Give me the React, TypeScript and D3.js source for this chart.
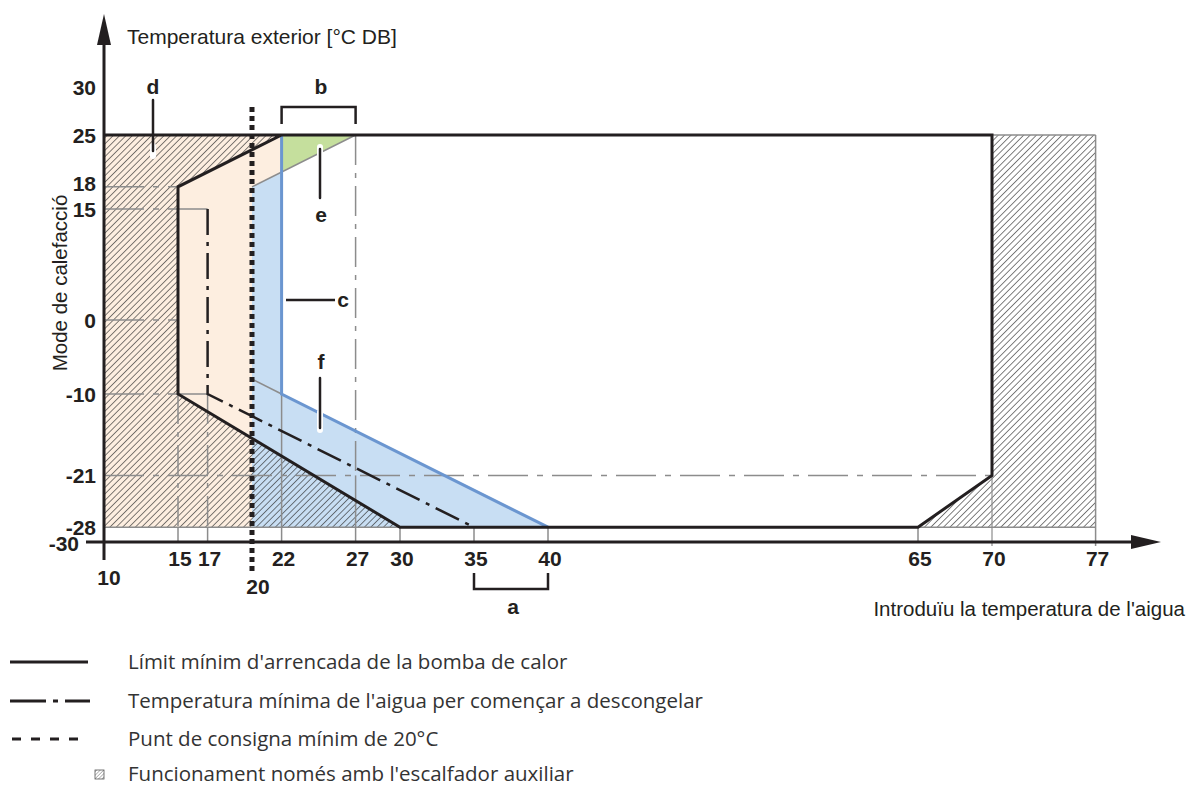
import React from 'react';
import * as d3 from 'd3';

type Pt = [number, number];

// axis ticks
const xTicks = [10, 15, 17, 20, 22, 27, 30, 35, 40, 65, 70, 77];
const yTicks = [30, 25, 18, 15, 0, -10, -21, -28, -30];

// boundary lines (water temp, outdoor temp)
const limitLine: Pt[] = [[10, 25], [70, 25], [70, -21], [65, -28], [30, -28], [15, -10], [15, 18], [22, 25]];
const defrostLine: Pt[] = [[17, 15], [17, -10], [35, -28]];
const blueLine: Pt[] = [[22, 25], [22, -10], [40, -28]];
const setpoint = 20;

// zones
const auxZoneLow: Pt[] = [[10, 25], [22, 25], [15, 18], [15, -10], [30, -28], [10, -28]];
const auxZoneHigh: Pt[] = [[70, 25], [77, 25], [77, -28], [65, -28], [70, -21]];
const beigeZone: Pt[] = [[10, 25], [22, 25], [22, 20], [20, 18], [20, -28], [10, -28]];
const blueZone: Pt[] = [[20, 18], [22, 20], [22, -10], [40, -28], [20, -28]];
const greenZone: Pt[] = [[22, 20], [22, 25], [27, 25]];
const greyEdges: Pt[][] = [[[20, 18], [27, 25]], [[20, -8], [22, -10]]];

// guide lines
const hGuides = [
  { v: 18, from: 10, to: 15 },
  { v: 15, from: 10, to: 17 },
  { v: 0, from: 10, to: 15 },
  { v: -10, from: 10, to: 17 },
  { v: -21, from: 10, to: 70 },
];
const vGuides = [
  { v: 15, from: -10, to: -28 },
  { v: 17, from: -10, to: -28 },
  { v: 27, from: 25, to: -21 },
];

const legendItems = [
  "Límit mínim d'arrencada de la bomba de calor",
  "Temperatura mínima de l'aigua per començar a descongelar",
  'Punt de consigna mínim de 20°C',
  "Funcionament només amb l'escalfador auxiliar",
];

const W = 1189;
const H = 787;

const x = d3.scaleLinear().domain([10, 70]).range([104, 992]);
const y = d3.scaleLinear().domain([-30, 25, 30]).range([542, 135, 87]);

const line = d3.line<Pt>().x(d => x(d[0])).y(d => y(d[1]));
const poly = (p: Pt[]) => line(p) + 'Z';

const GREY = '#8c8c8c';
const INK = '#231f20';
const LABEL = { fontFamily: 'Liberation Sans, Arial, sans-serif', fontWeight: 700, fontSize: 21, fill: INK };

export default function App() {
  const axisY = y(-30);
  const legendY = [662, 701, 739, 774];

  return (
    <svg width={W} height={H} style={{ position: 'absolute', left: 0, top: 0, background: '#fff' }}
      fontFamily="Liberation Sans, Arial, sans-serif">
      <defs>
        <pattern id="hatch" width={4.5} height={4.5} patternUnits="userSpaceOnUse" patternTransform="rotate(45)">
          <line x1={0} y1={0} x2={0} y2={4.5} stroke="#2a2a2a" strokeWidth={1.2} />
        </pattern>
        <pattern id="hatchIcon" width={2.5} height={2.5} patternUnits="userSpaceOnUse" patternTransform="rotate(45)">
          <line x1={0} y1={0} x2={0} y2={2.5} stroke="#555" strokeWidth={0.8} />
        </pattern>
      </defs>

      {/* fills */}
      <path d={poly(beigeZone)} fill="#fdeee0" />
      <path d={poly(blueZone)} fill="#c8def3" />
      <path d={poly(greenZone)} fill="#c5df9d" />
      <path d={poly(auxZoneLow)} fill="url(#hatch)" />
      <path d={poly(auxZoneHigh)} fill="url(#hatch)" />

      {/* grey frame of the operating range */}
      <line x1={x(10)} x2={x(77)} y1={y(-28)} y2={y(-28)} stroke={GREY} strokeWidth={1.5} />
      <line x1={x(70)} x2={x(77)} y1={y(25)} y2={y(25)} stroke={GREY} strokeWidth={1.5} />
      <line x1={x(77)} x2={x(77)} y1={y(25)} y2={axisY + 4} stroke={GREY} strokeWidth={1.5} />
      <line x1={x(70)} x2={x(70)} y1={y(-21)} y2={axisY + 4} stroke={GREY} strokeWidth={1.2} />
      <line x1={x(22)} x2={x(22)} y1={y(-10)} y2={axisY} stroke={GREY} strokeWidth={1.5} />
      <line x1={x(27)} x2={x(27)} y1={y(-21)} y2={axisY} stroke={GREY} strokeWidth={1.5} />
      {[15, 17, 30, 35, 40, 65].map(t => (
        <line key={t} x1={x(t)} x2={x(t)} y1={y(-28)} y2={axisY} stroke={GREY} strokeWidth={1.5} />
      ))}

      {hGuides.map(g => (
        <line key={'h' + g.v} x1={x(g.from)} x2={x(g.to)} y1={y(g.v)} y2={y(g.v)}
          stroke={GREY} strokeWidth={1.5} strokeDasharray="40 9 6 9" />
      ))}
      {vGuides.map(g => (
        <line key={'v' + g.v} x1={x(g.v)} x2={x(g.v)} y1={y(g.from)} y2={y(g.to)}
          stroke={GREY} strokeWidth={1.5} strokeDasharray="30 8 5 8" />
      ))}
      {greyEdges.map((e, i) => (
        <path key={i} d={line(e) || ''} fill="none" stroke={GREY} strokeWidth={1.5} />
      ))}

      {/* curves */}
      <path d={line(blueLine) || ''} fill="none" stroke="#6b96d0" strokeWidth={3} />
      <path d={line(defrostLine) || ''} fill="none" stroke={INK} strokeWidth={2.5} strokeDasharray="26 7 4 7" />
      <path d={line(limitLine) || ''} fill="none" stroke={INK} strokeWidth={3} strokeLinejoin="miter" />

      {/* axes */}
      <line x1={x(10)} x2={x(10)} y1={44} y2={560} stroke={INK} strokeWidth={3} />
      <path d={`M${x(10)},14 L${x(10) - 7},45 L${x(10) + 7},45 Z`} fill={INK} />
      <line x1={86} x2={1133} y1={axisY} y2={axisY} stroke={INK} strokeWidth={3} />
      <path d={`M1161,${axisY} L1131,${axisY - 7} L1131,${axisY + 7} Z`} fill={INK} />

      {/* 20 °C set point */}
      <line x1={x(setpoint)} x2={x(setpoint)} y1={107} y2={572} stroke={INK} strokeWidth={5} strokeDasharray="5 4" />

      {/* tick labels */}
      {yTicks.map(t => (
        <text key={'yt' + t} x={t === -30 ? 79 : 96} y={y(t) + 7.5 + (t === 18 ? -3 : 0) + (t === -30 ? 1 : 0)} textAnchor="end" {...LABEL}>{t}</text>
      ))}
      {xTicks.map(t => {
        const low = t === 10 || t === 20;
        const dx = t === 10 ? 5 : t === 20 ? 6 : 2;
        return (
          <text key={'xt' + t} x={x(t) + dx} y={low ? (t === 10 ? 585 : 594) : 566} textAnchor="middle" {...LABEL}>{t}</text>
        );
      })}

      {/* axis titles */}
      <text x={127} y={44} fontSize={21} fill={INK}>Temperatura exterior [°C DB]</text>
      <text x={1185} y={616} fontSize={20.5} fill={INK} textAnchor="end">Introduïu la temperatura de l'aigua</text>
      <text transform="translate(67,283) rotate(-90)" fontSize={20.5} fill={INK} textAnchor="middle">Mode de calefacció</text>

      {/* brackets */}
      <path d={`M${x(22)},124 V107 H${x(27)} V124`} fill="none" stroke={INK} strokeWidth={2.5} />
      <path d={`M${x(35)},573 V589 H${x(40)} V573`} fill="none" stroke={INK} strokeWidth={2.5} />

      {/* callouts */}
      <line x1={153} x2={153} y1={146} y2={156} stroke="#fff" strokeWidth={6} strokeLinecap="round" />
      <line x1={153} x2={153} y1={100} y2={151} stroke={INK} strokeWidth={2.5} strokeLinecap="round" />
      <line x1={320} x2={320} y1={147} y2={162} stroke="#fff" strokeWidth={6} strokeLinecap="round" />
      <line x1={320} x2={320} y1={149} y2={198} stroke={INK} strokeWidth={2.5} strokeLinecap="round" />
      <line x1={286} x2={335} y1={300} y2={300} stroke={INK} strokeWidth={2.5} />
      <line x1={320} x2={320} y1={412} y2={430} stroke="#fff" strokeWidth={6} strokeLinecap="round" />
      <line x1={320} x2={320} y1={378} y2={428} stroke={INK} strokeWidth={2.5} strokeLinecap="round" />

      <text x={153} y={94} textAnchor="middle" {...LABEL}>d</text>
      <text x={321} y={94} textAnchor="middle" {...LABEL}>b</text>
      <text x={321} y={222} textAnchor="middle" {...LABEL}>e</text>
      <text x={343} y={307} textAnchor="middle" {...LABEL}>c</text>
      <text x={321} y={369} textAnchor="middle" {...LABEL}>f</text>
      <text x={513} y={614} textAnchor="middle" {...LABEL}>a</text>

      {/* legend */}
      <line x1={10} x2={88} y1={legendY[0]} y2={legendY[0]} stroke={INK} strokeWidth={3} />
      <line x1={10} x2={90} y1={legendY[1]} y2={legendY[1]} stroke={INK} strokeWidth={3} strokeDasharray="36 7 5 7 30" />
      <line x1={12} x2={82} y1={legendY[2]} y2={legendY[2]} stroke={INK} strokeWidth={3} strokeDasharray="9 10" />
      <rect x={95} y={legendY[3] - 4} width={9} height={9} fill="url(#hatchIcon)" stroke="#555" strokeWidth={0.8} />
      {legendItems.map((t, i) => (
        <text key={t} x={128} y={legendY[i] + 7} fontFamily="Open Sans, sans-serif" fontSize={20.5} fill="#333">{t}</text>
      ))}
    </svg>
  );
}
